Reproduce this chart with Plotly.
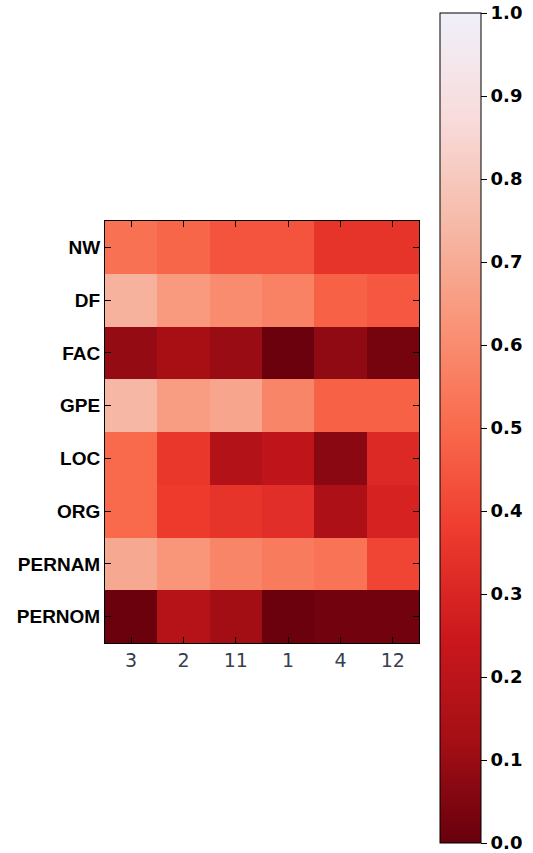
import plotly.graph_objects as go

columns = ["3", "2", "11", "1", "4", "12"]
rows = ["NW", "DF", "FAC", "GPE", "LOC", "ORG", "PERNAM", "PERNOM"]

nw = [0.52, 0.49, 0.44, 0.44, 0.35, 0.35]
df = [0.72, 0.64, 0.60, 0.57, 0.48, 0.45]
fac = [0.09, 0.13, 0.10, 0.01, 0.08, 0.03]
gpe = [0.74, 0.65, 0.68, 0.58, 0.48, 0.48]
loc = [0.50, 0.36, 0.17, 0.21, 0.07, 0.31]
org = [0.50, 0.37, 0.35, 0.33, 0.15, 0.29]
pernam = [0.69, 0.63, 0.58, 0.55, 0.53, 0.40]
pernom = [0.01, 0.18, 0.12, 0.01, 0.02, 0.02]

z = [nw, df, fac, gpe, loc, org, pernam, pernom]

reds = ["#f0f0fa", "#f8dcdc", "#f6bba9", "#f99478", "#f96a4c",
        "#ee3b2e", "#cb181d", "#a50f15", "#67000d"]
reds_r = list(reversed(reds))
colorscale = [[i / (len(reds_r) - 1), c] for i, c in enumerate(reds_r)]

cbar_ticks = [0.0, 0.1, 0.2, 0.3, 0.4, 0.5, 0.6, 0.7, 0.8, 0.9, 1.0]

fig = go.Figure(go.Heatmap(
    z=z, x=columns, y=rows, zmin=0, zmax=1,
    colorscale=colorscale,
    colorbar=dict(
        thickness=41, thicknessmode="pixels",
        len=830 / 853, lenmode="fraction",
        x=440 / 533, xanchor="left", xpad=0,
        y=1 - 428 / 853, yanchor="middle", ypad=0,
        outlinewidth=1, outlinecolor="black",
        ticks="outside", ticklen=6, tickcolor="black",
        tickvals=cbar_ticks, ticktext=[f"{t:.1f}" for t in cbar_ticks],
        ticklabeloverflow="allow",
        tickfont=dict(family="DejaVu Sans", size=18, color="black", weight="bold"),
    ),
))

fig.update_layout(
    width=533, height=853,
    margin=dict(l=0, r=0, t=0, b=0),
    paper_bgcolor="white", plot_bgcolor="white",
    xaxis=dict(
        domain=[105 / 533, 419 / 533], type="category",
        showline=True, linecolor="black", linewidth=1, mirror="ticks",
        ticks="inside", ticklen=6, tickcolor="black",
        tickfont=dict(family="DejaVu Sans", size=19, color="#36404e"),
        showgrid=False, zeroline=False,
    ),
    yaxis=dict(
        domain=[1 - 643 / 853, 1 - 221 / 853], type="category",
        autorange="reversed",
        showline=True, linecolor="black", linewidth=1, mirror="ticks",
        ticks="inside", ticklen=6, tickcolor="black",
        tickfont=dict(family="Liberation Sans", size=19, color="black", weight="bold"),
        showgrid=False, zeroline=False,
    ),
)

fig.write_html("out.html")
